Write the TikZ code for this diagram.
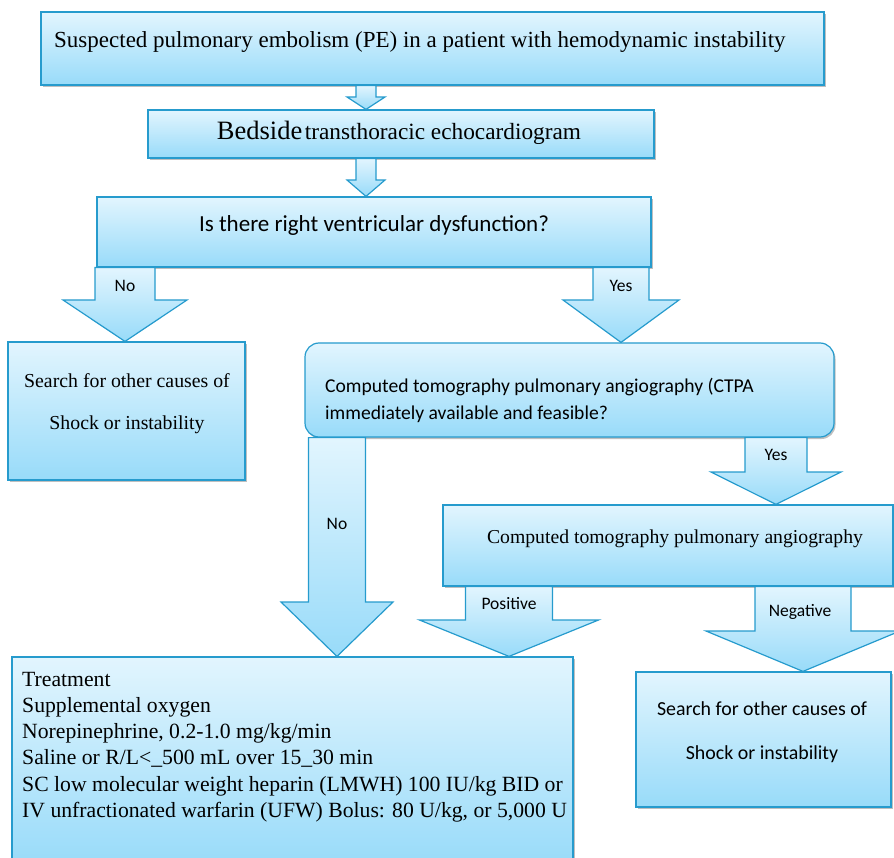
\documentclass[tikz,border=0pt]{standalone}
\usepackage{fontspec}
\setmainfont{Liberation Serif}
\newfontfamily\calfont{Carlito}
\usetikzlibrary{fit,shadows,calc}
\definecolor{bordc}{RGB}{38,155,205}
\definecolor{filltop}{RGB}{226,245,254}
\definecolor{fillbot}{RGB}{152,219,249}
\tikzset{
  box/.style={draw=bordc, line width=1.2pt, top color=filltop, bottom color=fillbot, inner sep=0pt,
    drop shadow={shadow xshift=1.5pt, shadow yshift=-2pt, fill=black, opacity=0.25}},
  barrow/.style={draw=bordc, line width=1.2pt, top color=filltop, bottom color=fillbot, line join=miter},
  txt/.style={inner sep=0pt, anchor=base},
  ltxt/.style={inner sep=0pt, anchor=base west},
  serif/.style={font=\fontsize{#1}{#1}\selectfont},
  sans/.style={font=\calfont\fontsize{#1}{#1}\selectfont},
}
\newcommand\blockarrow[6]{%
  \path[barrow] let \p1=(#1.south), \p2=(#2.north) in
    (#3pt-#4pt,\y1) -- (#3pt+#4pt,\y1) -- (#3pt+#4pt,-#6pt) -- (#3pt+#5pt,-#6pt)
    -- (#3pt,\y2) -- (#3pt-#5pt,-#6pt) -- (#3pt-#4pt,-#6pt) -- cycle;
}
\begin{document}
\begin{tikzpicture}[x=1pt,y=-1pt]
\useasboundingbox (0,0) rectangle (894,858);
% boxes
\node[box, fit={(41,12) (824,85)}] (b1) {};
\node[box, fit={(148,110) (654,158)}] (b2) {};
\node[box, fit={(97,197) (651,267)}] (b3) {};
\node[box, fit={(8,342) (245,480)}] (s1) {};
\node[box, rounded corners=14pt, fit={(305,343) (834,437)}] (q) {};
\node[box, fit={(443,505) (893,586)}] (ct) {};
\node[box, fit={(12,657) (573,866)}] (tr) {};
\node[box, fit={(636,672) (891,807)}] (s2) {};
% arrows
\blockarrow{b1}{b2}{366}{10}{19}{97}
\blockarrow{b2}{b3}{366}{10}{19}{180}
\blockarrow{b3}{s1}{125}{30}{62}{300}
\blockarrow{b3}{q}{621}{28}{58}{300}
\blockarrow{q}{tr}{337}{28.5}{56}{602}
\blockarrow{q}{ct}{776}{31}{65}{472}
\blockarrow{ct}{tr}{509}{43.5}{89.5}{620}
\blockarrow{ct}{s2}{803}{48}{97}{631}
% texts
\node[ltxt, serif=23] (t1) at (54,48) {Suspected pulmonary embolism (PE) in a patient with hemodynamic instability};
\node[txt] (t2) at (399,140) {{\fontsize{26.5}{26.5}\selectfont Bedside} {\fontsize{23.3}{23.3}\selectfont transthoracic echocardiogram}};
\node[txt, sans=23] (t3) at (374,232) {Is there right ventricular dysfunction?};
\node[txt, serif=19.8] (s1a) at (127,388) {Search for other causes of};
\node[txt, serif=19.8] (s1b) at (127,429) {Shock or instability};
\node[ltxt, sans=19.6] (qa) at (325,392) {Computed tomography pulmonary angiography (CTPA};
\node[ltxt, sans=19.6] (qb) at (325,419) {immediately available and feasible?};
\node[txt, serif=19.7] (ctt) at (675,543) {Computed tomography pulmonary angiography};
\node[ltxt, serif=21.7] (tr1) at (22,686) {Treatment};
\node[ltxt, serif=21.7] (tr2) at (22,712.3) {Supplemental oxygen};
\node[ltxt, serif=21.7] (tr3) at (22,738.6) {Norepinephrine, 0.2-1.0 mg/kg/min};
\node[ltxt, serif=21.7] (tr4) at (22,764.9) {Saline or R/L<\_500 mL over 15\_30 min};
\node[ltxt, serif=21.7] (tr5) at (22,791.2) {SC low molecular weight heparin (LMWH) 100 IU/kg BID or};
\node[ltxt, serif=21.7] (tr6) at (22,817.5) {IV unfractionated warfarin (UFW) Bolus: 80 U/kg, or 5,000 U};
\node[txt, sans=19.9] (s2a) at (762,715) {Search for other causes of};
\node[txt, sans=19.9] (s2b) at (762,759) {Shock or instability};
% labels
\node[txt, sans=17.5] (lno) at (125,292) {No};
\node[txt, sans=17.5] (lyes) at (621,292) {Yes};
\node[txt, sans=17.5] (lno2) at (337,529) {No};
\node[txt, sans=17.5] (lyes2) at (776,460) {Yes};
\node[txt, sans=17.5] (lpos) at (509,609) {Positive};
\node[txt, sans=17.5] (lneg) at (800,616) {Negative};
\end{tikzpicture}
\end{document}
